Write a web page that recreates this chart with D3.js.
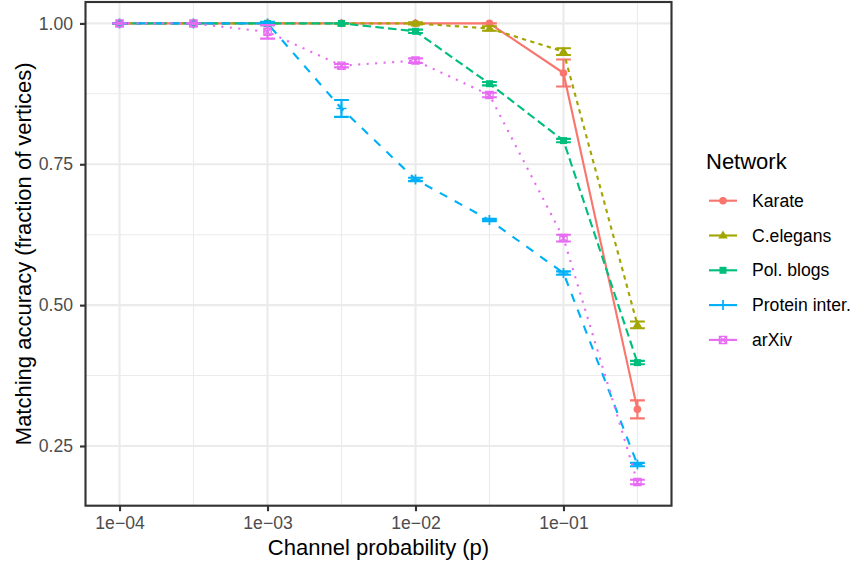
<!DOCTYPE html>
<html>
<head>
<meta charset="utf-8">
<script src="https://cdn.jsdelivr.net/npm/d3@7"></script>
<style>
  body{margin:0;background:#fff;}
  text{font-family:"Liberation Sans",Arial,sans-serif;}
</style>
</head>
<body>
<svg id="chart" width="854" height="561"></svg>
<script>
// channel probabilities (half decades)
const probs = [0.0001, 0.000316, 0.001, 0.00316, 0.01, 0.0316, 0.1, 0.316];
const networks = ["Karate", "C.elegans", "Pol. blogs", "Protein inter.", "arXiv"];

const karate   = [1, 1, 1, 1, 1, 1, 0.912, 0.315];
const celegans = [1, 1, 1, 1, 1, 0.991, 0.950, 0.465];
const polblogs = [1, 1, 1, 1, 0.986, 0.893, 0.792, 0.398];
const protein  = [1, 1, 1, 0.849, 0.723, 0.651, 0.557, 0.217];
const arxiv    = [1, 1, 0.985, 0.925, 0.934, 0.873, 0.619, 0.186];

const karateErr   = [0, 0, 0, 0, 0, 0, 0.024, 0.016];
const celegansErr = [0, 0, 0, 0, 0.002, 0.004, 0.006, 0.006];
const polblogsErr = [0, 0, 0, 0, 0.003, 0.003, 0.003, 0.003];
const proteinErr  = [0, 0, 0.003, 0.015, 0.003, 0.002, 0.003, 0.003];
const arxivErr    = [0, 0, 0.012, 0.003, 0.004, 0.004, 0.006, 0.004];

const xTicks = [1e-4, 1e-3, 1e-2, 1e-1];
const xTickLabels = ["1e\u221204", "1e\u221203", "1e\u221202", "1e\u221201"];
const xMinor = [0.000316, 0.00316, 0.0316, 0.316];
const yTicks = [0.25, 0.5, 0.75, 1.0];
const yMinor = [0.375, 0.625, 0.875];

const colors = ["#F8766D", "#A3A500", "#00BF7D", "#00B0F6", "#E76BF3"];
const dashes = [null, "4.3,4.3", "8.5,4.3", "8.5,8.5", "2.1,6.4"];
const shapes = ["circle", "triangle", "square", "plus", "boxcross"];
const errs = [karateErr, celegansErr, polblogsErr, proteinErr, arxivErr];

const series = [karate, celegans, polblogs, protein, arxiv].map((v, i) => ({
  name: networks[i],
  color: colors[i],
  dash: dashes[i],
  shape: shapes[i],
  pts: v.map((y, j) => ({x: probs[j], y: y, e: errs[i][j]}))
}));

const svg = d3.select("#chart");
const L = 85.5, R = 671.5, T = 2, B = 505.7;
const lw = 2.13;

const x = d3.scaleLog().domain([Math.pow(10, -4.23), Math.pow(10, -0.27)]).range([L, R]);
const y = d3.scaleLinear().domain([0.144, 1.038]).range([B, T]);

// grid
const grid = svg.append("g");
grid.selectAll(".xmin").data(xMinor).enter().append("line")
  .attr("x1", d => x(d)).attr("x2", d => x(d)).attr("y1", T).attr("y2", B)
  .attr("stroke", "#EBEBEB").attr("stroke-width", lw / 2);
grid.selectAll(".ymin").data(yMinor).enter().append("line")
  .attr("y1", d => y(d)).attr("y2", d => y(d)).attr("x1", L).attr("x2", R)
  .attr("stroke", "#EBEBEB").attr("stroke-width", lw / 2);
grid.selectAll(".xmaj").data(xTicks).enter().append("line")
  .attr("x1", d => x(d)).attr("x2", d => x(d)).attr("y1", T).attr("y2", B)
  .attr("stroke", "#EBEBEB").attr("stroke-width", lw);
grid.selectAll(".ymaj").data(yTicks).enter().append("line")
  .attr("y1", d => y(d)).attr("y2", d => y(d)).attr("x1", L).attr("x2", R)
  .attr("stroke", "#EBEBEB").attr("stroke-width", lw);

function drawShape(g, shape, color, cx, cy){
  if (shape == "circle"){
    g.append("circle").attr("cx", cx).attr("cy", cy).attr("r", 3.8).attr("fill", color);
  } else if (shape == "triangle"){
    const s = 5;
    g.append("path").attr("d", `M${cx},${cy - s}L${cx + s * 0.95},${cy + s * 0.6}L${cx - s * 0.95},${cy + s * 0.6}Z`).attr("fill", color);
  } else if (shape == "square"){
    g.append("rect").attr("x", cx - 3.5).attr("y", cy - 3.5).attr("width", 7).attr("height", 7).attr("fill", color);
  } else if (shape == "plus"){
    g.append("path").attr("d", `M${cx - 5},${cy}H${cx + 5}M${cx},${cy - 5}V${cy + 5}`)
      .attr("stroke", color).attr("stroke-width", lw * 0.8).attr("fill", "none");
  } else {
    const s = 3.6;
    g.append("path").attr("d", `M${cx - s},${cy - s}H${cx + s}V${cy + s}H${cx - s}ZM${cx - s},${cy - s}L${cx + s},${cy + s}M${cx + s},${cy - s}L${cx - s},${cy + s}`)
      .attr("stroke", color).attr("stroke-width", 1.3).attr("fill", "none");
  }
}

const line = d3.line().x(d => x(d.x)).y(d => y(d.y));
const hw = 0.05; // errorbar half-width in decades

series.forEach(s => {
  const g = svg.append("g");
  g.append("path").datum(s.pts).attr("d", line)
    .attr("fill", "none").attr("stroke", s.color).attr("stroke-width", lw)
    .attr("stroke-dasharray", s.dash);
  s.pts.forEach(p => {
    const x0 = x(p.x * Math.pow(10, -hw)), x1 = x(p.x * Math.pow(10, hw));
    const yl = y(p.y - p.e), yh = y(p.y + p.e);
    g.append("path").attr("d", `M${x0},${yh}H${x1}M${x(p.x)},${yh}V${yl}M${x0},${yl}H${x1}`)
      .attr("stroke", s.color).attr("stroke-width", lw).attr("fill", "none");
    drawShape(g, s.shape, s.color, x(p.x), y(p.y));
  });
});

// panel border
svg.append("rect").attr("x", L).attr("y", T).attr("width", R - L).attr("height", B - T)
  .attr("fill", "none").attr("stroke", "#333333").attr("stroke-width", lw);

// axes
const xAxis = d3.axisBottom(x).tickValues(xTicks).tickFormat((d, i) => xTickLabels[i]).tickSize(5.5).tickPadding(5);
const gx = svg.append("g").attr("transform", `translate(0,${B})`).call(xAxis);
const yAxis = d3.axisLeft(y).tickValues(yTicks).tickFormat(d3.format(".2f")).tickSize(5.5).tickPadding(7);
const gy = svg.append("g").attr("transform", `translate(${L},0)`).call(yAxis);
[gx, gy].forEach(g => {
  g.select(".domain").remove();
  g.selectAll(".tick line").attr("stroke", "#333333").attr("stroke-width", lw);
  g.selectAll(".tick text").attr("fill", "#4D4D4D").style("font-size", "17.6px")
    .style("font-family", "'Liberation Sans', Arial, sans-serif");
});

svg.append("text").attr("x", (L + R) / 2).attr("y", 555).attr("text-anchor", "middle")
  .style("font-size", "22px").attr("fill", "#000").text("Channel probability (p)");
svg.append("text").attr("transform", `translate(31,${(T + B) / 2}) rotate(-90)`).attr("text-anchor", "middle")
  .style("font-size", "22px").attr("fill", "#000").text("Matching accuracy (fraction of vertices)");

// legend
const leg = svg.append("g");
leg.append("text").attr("x", 706).attr("y", 169).style("font-size", "22px").text("Network");
series.forEach((s, i) => {
  const ky = 200.7 + i * 34.8;
  leg.append("line").attr("x1", 709).attr("x2", 737).attr("y1", ky).attr("y2", ky)
    .attr("stroke", s.color).attr("stroke-width", lw);
  drawShape(leg, s.shape, s.color, 723, ky);
  leg.append("text").attr("x", 752).attr("y", ky + 6).style("font-size", "17.6px").text(s.name);
});
</script>
</body>
</html>
